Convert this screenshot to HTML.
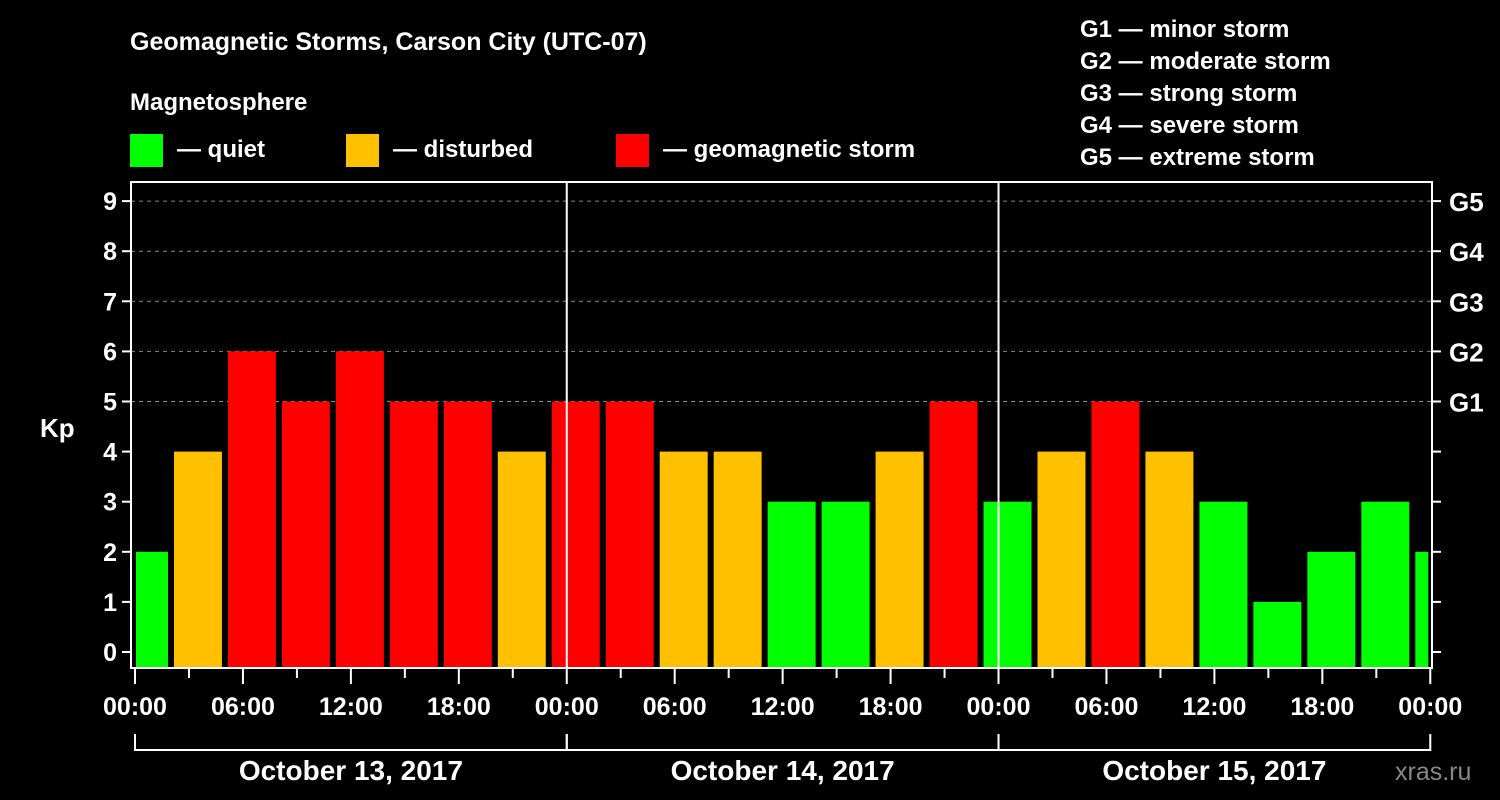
<!DOCTYPE html>
<html><head><meta charset="utf-8"><style>
html,body{margin:0;padding:0;background:#000;}
svg{display:block;font-family:"Liberation Sans",Arial,sans-serif;font-weight:bold;}
</style></head><body>
<svg id="c" width="1500" height="800" viewBox="0 0 1500 800">
<rect width="1500" height="800" fill="#000"/>
<text x="130" y="50" fill="#fff" font-size="25">Geomagnetic Storms, Carson City (UTC-07)</text>
<text x="130" y="110" fill="#fff" font-size="24">Magnetosphere</text>
<g>
<rect x="130" y="134" width="33" height="33" fill="#00ff00"/>
<text x="177" y="157" fill="#fff" font-size="24">— quiet</text>
<rect x="346" y="134" width="33" height="33" fill="#ffc000"/>
<text x="393" y="157" fill="#fff" font-size="24">— disturbed</text>
<rect x="616" y="134" width="33" height="33" fill="#ff0000"/>
<text x="663" y="157" fill="#fff" font-size="24">— geomagnetic storm</text>
</g>
<g fill="#fff" font-size="24">
<text x="1080" y="37">G1 — minor storm</text>
<text x="1080" y="69">G2 — moderate storm</text>
<text x="1080" y="101">G3 — strong storm</text>
<text x="1080" y="133">G4 — severe storm</text>
<text x="1080" y="165">G5 — extreme storm</text>
</g>
<text x="40" y="437" fill="#fff" font-size="26">Kp</text>
<text x="1395" y="780" fill="#888" font-size="25" font-weight="normal">xras.ru</text>
<g id="grid"></g><g id="bars"></g><g id="axes"></g>
</svg>
<script>
const kpValues=[2,4,6,5,6,5,5,4,5,5,4,4,3,3,4,5,3,4,5,4,3,1,2,3,2];
const startHour=-1; // first interval starts 23:00 previous day (local)
const yTicks=[0,1,2,3,4,5,6,7,8,9];
const gLabels=["G1","G2","G3","G4","G5"];
const gLevels=[5,6,7,8,9];
const timeLabels=["00:00","06:00","12:00","18:00"];
const dayLabels=["October 13, 2017","October 14, 2017","October 15, 2017"];
const NS="http://www.w3.org/2000/svg";
const X0=135,HX=17.99,Y0=652,UY=50.1,L=131,R=1432,T=182,B=668;
const x=h=>X0+h*HX, y=v=>Y0-v*UY;
function mk(tag,at,par){const e=document.createElementNS(NS,tag);for(const k in at)e.setAttribute(k,at[k]);document.getElementById(par).appendChild(e);return e;}
function col(v){return v>=5?"#ff0000":v>=4?"#ffc000":"#00ff00";}
gLevels.forEach(v=>{const l=mk("line",{x1:L,x2:R,y1:y(v),y2:y(v),stroke:"#888","stroke-dasharray":"4,4"},"grid");

});
kpValues.forEach((v,i)=>{let h0=Math.max(0,startHour+i*3),h1=Math.min(72,startHour+i*3+3);
const r=mk("rect",{x:x(h0)+(h0===0?1:3),y:y(v),width:x(h1)-x(h0)-(h0===0?1:3)-(h1===72?2:3),height:B-y(v),fill:col(v)},"bars");

});
// day separators
[1,2].forEach(d=>{const l=mk("line",{x1:x(24*d),x2:x(24*d),y1:T,y2:B,stroke:"#fff","stroke-width":2},"axes");

});
const f=mk("rect",{x:L,y:T,width:R-L,height:B-T,fill:"none",stroke:"#fff","stroke-width":2},"axes");


yTicks.forEach(v=>{mk("line",{x1:L-9,x2:L,y1:y(v),y2:y(v),stroke:"#fff","stroke-width":2},"axes");
mk("line",{x1:R,x2:R+9,y1:y(v),y2:y(v),stroke:"#fff","stroke-width":2},"axes");
const t=mk("text",{x:L-14,y:y(v)+9,fill:"#fff","font-size":25,"text-anchor":"end"},"axes");t.textContent=v;

});
gLabels.forEach((g,i)=>{const t=mk("text",{x:1449,y:y(gLevels[i])+10,fill:"#fff","font-size":26},"axes");t.textContent=g;

});
for(let h=0;h<=72;h+=3){const major=h%6===0;mk("line",{x1:x(h),x2:x(h),y1:B,y2:B+(major?16:10),stroke:"#fff","stroke-width":2},"axes");
if(major){const t=mk("text",{x:x(h),y:715,fill:"#fff","font-size":25,"text-anchor":"middle"},"axes");t.textContent=timeLabels[(h/6)%4];

}}
dayLabels.forEach((d,i)=>{mk("path",{d:`M${x(24*i)},734V750H${x(24*i+24)}V734`,fill:"none",stroke:"#fff","stroke-width":2},"axes");
const t=mk("text",{x:x(24*i+12),y:780,fill:"#fff","font-size":28,"text-anchor":"middle"},"axes");t.textContent=d;

});
</script>
</body></html>
